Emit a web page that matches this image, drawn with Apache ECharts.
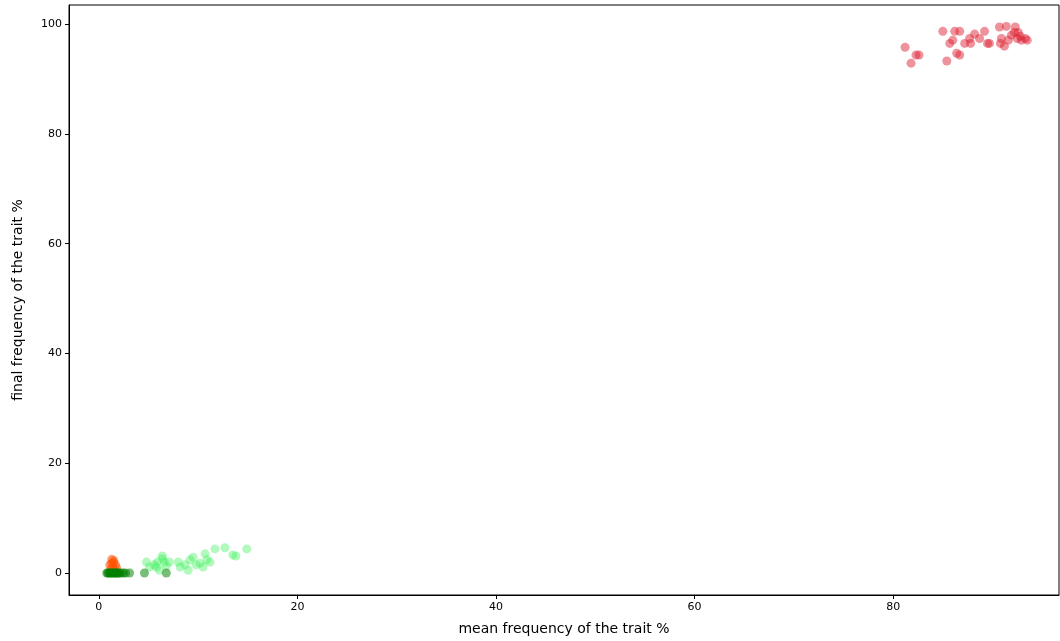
<!DOCTYPE html>
<html><head><meta charset="utf-8">
<script src="https://cdn.jsdelivr.net/npm/echarts@6/dist/echarts.min.js"></script>
<style>html,body{margin:0;padding:0;background:#fff}#c{width:1060px;height:641px}</style>
</head><body><div id="c"></div>
<script>
const xTicks = [0, 20, 40, 60, 80];
const yTicks = [0, 20, 40, 60, 80, 100];
const redX = [81.2,81.8,82.3,82.6,85.0,85.4,85.7,86.0,86.2,86.4,86.7,86.7,87.2,87.7,87.8,88.2,88.7,89.2,89.5,89.7,90.7,90.8,90.9,91.2,91.4,91.6,91.9,92.2,92.3,92.5,92.6,92.8,92.9,93.3,93.5];
const redY = [95.8,92.9,94.4,94.4,98.7,93.3,96.5,97.1,98.7,94.7,98.7,94.4,96.5,97.4,96.5,98.2,97.4,98.7,96.5,96.5,99.5,96.5,97.4,96.0,99.6,97.1,98.0,98.5,99.5,97.4,98.5,97.8,97.1,97.4,97.1];
const lightX = [4.8,5.1,5.6,5.9,6.1,6.4,6.6,6.8,7.1,8.0,8.2,8.7,9.0,9.2,9.5,9.8,10.2,10.5,10.7,10.9,11.2,11.7,12.7,13.5,13.8,14.9,6.4,5.8];
const lightY = [2.0,1.1,1.5,2.0,0.5,3.1,2.0,1.3,2.0,2.0,1.1,1.5,0.5,2.4,2.9,1.5,1.8,1.1,3.5,2.4,2.0,4.4,4.6,3.3,3.1,4.4,2.6,1.1];
const orangeX = [1.3,1.5,1.1,1.7,1.4,1.2,1.6,1.8,1.5,1.3];
const orangeY = [2.5,2.0,1.5,1.5,1.1,0.7,0.5,0.9,2.3,1.8];
const greenX = [0.8,0.9,1.0,1.1,1.2,1.3,1.4,1.5,1.6,1.7,1.8,1.9,2.0,2.1,2.3,2.5,2.7,3.1,4.6,6.8];
const greenY = [0,0,0,0,0,0,0,0,0,0,0,0,0,0,0,0,0,0,0,0];

function pts(xs, ys){ return xs.map((x,i)=>[x, ys[i]]); }
const font = 'DejaVu Sans';
const chart = echarts.init(document.getElementById('c'), null, {renderer:'canvas'});
function ser(xs, ys, color){
  return {type:'scatter', data: pts(xs,ys), symbolSize: 9,
    itemStyle:{color: color, borderWidth:0}, emphasis:{disabled:true}, animation:false};
}
chart.setOption({
  animation:false,
  grid:{left:69, right:1, top:5, bottom:46, show:true, borderColor:'#000', borderWidth:1, backgroundColor:'transparent'},
  xAxis:{type:'value', min:-3.0, max:96.7,
    name:'mean frequency of the trait %', nameLocation:'middle', nameGap:27,
    nameTextStyle:{fontFamily:font, fontSize:14, color:'#000'},
    axisLine:{show:true, onZero:false, lineStyle:{color:'#000', width:1}},
    axisTick:{show:true, inside:false, length:4, lineStyle:{color:'#000'}, customValues: xTicks},
    axisLabel:{fontFamily:font, fontSize:11, color:'#000', margin:7, customValues: xTicks},
    splitLine:{show:false}},
  yAxis:{type:'value', min:-4.0, max:103.5,
    name:'final frequency of the trait %', nameLocation:'middle', nameGap:44, nameRotate:90,
    nameTextStyle:{fontFamily:font, fontSize:14, color:'#000'},
    axisLine:{show:true, onZero:false, lineStyle:{color:'#000', width:1}},
    axisTick:{show:true, inside:false, length:4, lineStyle:{color:'#000'}, customValues: yTicks},
    axisLabel:{fontFamily:font, fontSize:11, color:'#000', margin:7, customValues: yTicks},
    splitLine:{show:false}},
  series:[
    ser(redX, redY, 'rgba(220,30,45,0.6)'),
    ser(lightX, lightY, 'rgba(60,240,90,0.5)'),
    ser(orangeX, orangeY, 'rgba(255,80,0,0.65)'),
    ser(greenX, greenY, 'rgba(0,128,0,0.65)')
  ]
});
</script></body></html>
